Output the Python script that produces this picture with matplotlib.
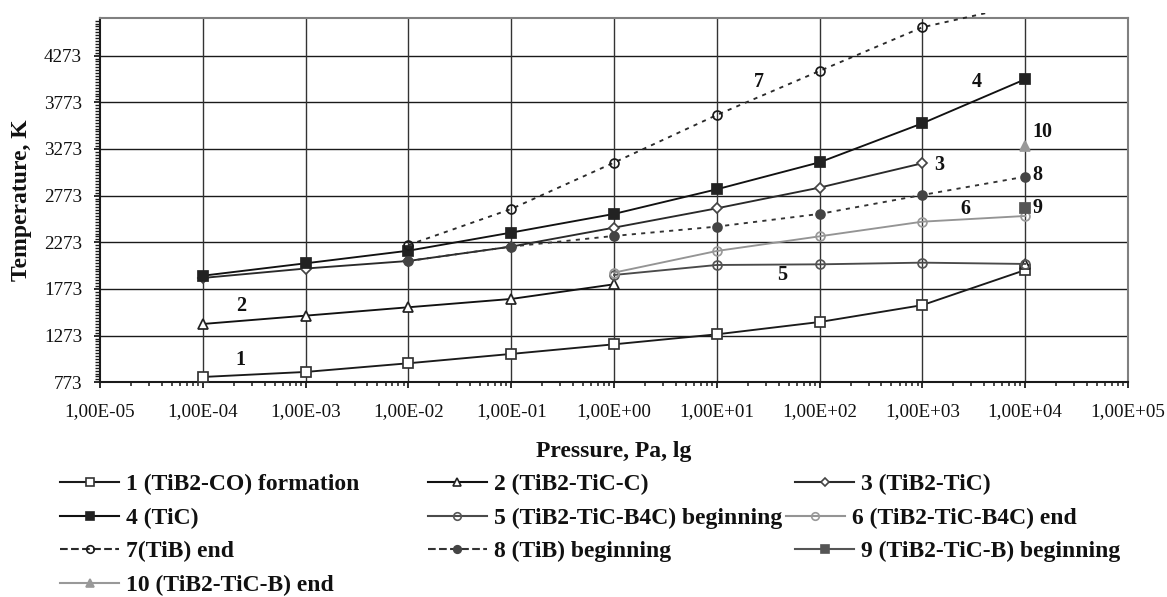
import numpy as np
import matplotlib
matplotlib.use("Agg")
import matplotlib.pyplot as plt
from matplotlib.lines import Line2D
from matplotlib.patches import Rectangle
from matplotlib.ticker import FixedLocator, NullFormatter, LogLocator

plt.rcParams['font.family'] = ['Liberation Serif', 'DejaVu Serif']

# ---------------- data ----------------
pressure = [1e-4, 1e-3, 1e-2, 1e-1, 1e0, 1e1, 1e2, 1e3, 1e4]
NaN = np.nan
s1 = [830, 884, 977, 1077, 1180, 1287, 1419, 1600, 1976]
s2 = [1398, 1487, 1577, 1666, 1823, NaN, NaN, NaN, 2041]
s3 = [1891, 1992, 2073, 2227, 2430, 2637, 2859, 3120, NaN]
s4 = [1915, 2048, 2183, 2377, 2577, 2841, 3130, 3548, 4020]
s5 = [NaN, NaN, NaN, NaN, 1923, 2030, 2037, 2055, 2041]
s6 = [NaN, NaN, NaN, NaN, 1948, 2180, 2337, 2494, 2555]
s7 = [NaN, NaN, 2244, 2630, 3127, 3637, 4109, 4577, 4823]
s8 = [NaN, NaN, 2073, 2227, 2341, 2441, 2577, 2780, 2976]
s9 = [NaN, NaN, NaN, NaN, NaN, NaN, NaN, NaN, 2638]
s10 = [NaN, NaN, NaN, NaN, NaN, NaN, NaN, NaN, 3308]

series_names = ["1 (TiB2-CO) formation", "2 (TiB2-TiC-C)", "3 (TiB2-TiC)",
                "4 (TiC)", "5 (TiB2-TiC-B4C) beginning", "6 (TiB2-TiC-B4C) end",
                "7(TiB) end", "8 (TiB) beginning", "9 (TiB2-TiC-B) beginning",
                "10 (TiB2-TiC-B) end"]
series_values = [s1, s2, s3, s4, s5, s6, s7, s8, s9, s10]

xtick_values = [1e-5, 1e-4, 1e-3, 1e-2, 1e-1, 1e0, 1e1, 1e2, 1e3, 1e4, 1e5]
xtick_labels = ["1,00E-05", "1,00E-04", "1,00E-03", "1,00E-02", "1,00E-01",
                "1,00E+00", "1,00E+01", "1,00E+02", "1,00E+03", "1,00E+04",
                "1,00E+05"]
ytick_values = [773, 1273, 1773, 2273, 2773, 3273, 3773, 4273]
y_min, y_max = 773, 4673

curve_labels = ["1", "2", "3", "4", "5", "6", "7", "8", "9", "10"]
curve_label_pos = [(10**-3.632, 1012), (10**-3.63, 1590), (10**3.161, 3103),
                   (10**3.527, 3994), (10**1.637, 1923), (10**3.414, 2630),
                   (10**1.407, 3994), (10**4.115, 2995), (10**4.115, 2640),
                   (10**4.17, 3458)]

# ---------------- styles ----------------
dot = (0, (2.2, 2.8))
styles = [
    dict(color='#1a1a1a', marker='s', mfc='white', mec='#333333', ms=6.8, ls='-'),
    dict(color='#111111', marker='^', mfc='white', mec='#222222', ms=6.6, ls='-'),
    dict(color='#2a2a2a', marker='D', mfc='white', mec='#444444', ms=4.8, ls='-'),
    dict(color='#111111', marker='s', mfc='#222222', mec='#222222', ms=6.8, ls='-'),
    dict(color='#4a4a4a', marker='o', mfc='none', mec='#555555', ms=6.4, ls='-'),
    dict(color='#949494', marker='o', mfc='none', mec='#999999', ms=6.4, ls='-'),
    dict(color='#2a2a2a', marker='o', mfc='none', mec='#1a1a1a', ms=6.4, ls=dot),
    dict(color='#333333', marker='o', mfc='#444444', mec='#444444', ms=6.4, ls=dot),
    dict(color='#555555', marker='s', mfc='#555555', mec='#555555', ms=6.8, ls='-'),
    dict(color='#999999', marker='^', mfc='#999999', mec='#999999', ms=6.8, ls='-'),
]

W, H = 1167, 597
fig = plt.figure(figsize=(W / 100, H / 100), dpi=100)
ax_left, ax_right, ax_top, ax_bottom = 100, 1128, 18.3, 382.3
ax = fig.add_axes([ax_left / W, 1 - ax_bottom / H, (ax_right - ax_left) / W,
                   (ax_bottom - ax_top) / H])
ax.set_xscale('log')
ax.set_xlim(1e-5, 1e5)
ax.set_ylim(y_min, y_max)

# grid
for yv in ytick_values[1:]:
    ax.axhline(yv, color='#1a1a1a', lw=1.0, zorder=1)
for xv in xtick_values[1:-1]:
    ax.axvline(xv, color='#333333', lw=1.0, zorder=1)

handles = []
for i, (vals, st) in enumerate(zip(series_values, styles)):
    ln, = ax.plot(pressure, vals, color=st['color'], ls=st['ls'], lw=1.35,
                  marker=st['marker'], mfc=st['mfc'], mec=st['mec'],
                  ms=st['ms'], mew=1.25, zorder=3 + i * 0.01)
    if i == 6:
        clip = Rectangle((0, 0), 1, 1 + 5 / (ax_bottom - ax_top),
                         transform=ax.transAxes)
        ln.set_clip_path(clip)
    handles.append(ln)

# ticks
ax.xaxis.set_major_locator(FixedLocator(xtick_values))
ax.set_xticklabels(xtick_labels)
ax.xaxis.set_minor_locator(LogLocator(base=10, subs=np.arange(2, 10), numticks=20))
ax.xaxis.set_minor_formatter(NullFormatter())
ax.yaxis.set_major_locator(FixedLocator(ytick_values))
ax.set_yticklabels([str(v) for v in ytick_values])
ax.yaxis.set_minor_locator(FixedLocator(np.arange(y_min, y_max + 1, 31.25)))
ax.tick_params(axis='x', which='major', direction='out', length=4, width=1.3,
               labelsize=13.8, pad=11, color='#1a1a1a', labelcolor='#111111')
ax.tick_params(axis='x', which='minor', direction='out', length=3, width=1.1,
               color='#1a1a1a')
ax.tick_params(axis='y', which='major', direction='out', length=4.5, width=1.3,
               labelsize=13.8, pad=8.5, color='#1a1a1a', labelcolor='#111111')
ax.tick_params(axis='y', which='minor', direction='out', length=3.5, width=1.0,
               color='#1a1a1a')

for sp in ['left', 'bottom']:
    ax.spines[sp].set_color('#1a1a1a')
    ax.spines[sp].set_linewidth(1.5)
for sp in ['top', 'right']:
    ax.spines[sp].set_color('#808080')
    ax.spines[sp].set_linewidth(1.5)

# curve numbers
for lab, (xp, yp) in zip(curve_labels, curve_label_pos):
    ax.text(xp, yp, lab, ha='center', va='center', fontsize=14.5,
            fontweight='bold', color='#111111', zorder=6)

# axis titles
fig.text(614 / W, 1 - 451.7 / H, "Pressure, Pa, lg", ha='center', va='center',
         fontsize=17, fontweight='bold', color='#111111')
fig.text(22 / W, 1 - 200 / H, "Temperature, K", ha='center', va='center',
         rotation=90, fontsize=17, fontweight='bold', color='#111111')

# legend entries (row-major layout as in the reference)
row_y = [484.3, 518.3, 551.7, 585.0]
entry_pos = [(60, row_y[0]), (427.7, row_y[0]), (795, row_y[0]),
             (60, row_y[1]), (427.7, row_y[1]), (785.7, row_y[1]),
             (60, row_y[2]), (427.7, row_y[2]), (795, row_y[2]),
             (60, row_y[3])]
for h, name, (px, py) in zip(handles, series_names, entry_pos):
    proxy = Line2D([], [], color=h.get_color(), ls=h.get_linestyle(), lw=1.5,
                   marker=h.get_marker(), mfc=h.get_markerfacecolor(),
                   mec=h.get_markeredgecolor(), ms=h.get_markersize() * 0.85,
                   mew=1.2)
    lg = fig.legend([proxy], [name], loc='center left',
                    bbox_to_anchor=(px / W, 1 - py / H),
                    bbox_transform=fig.transFigure, frameon=False,
                    borderpad=0, borderaxespad=0, handlelength=2.5,
                    handletextpad=0.3, numpoints=1,
                    prop=dict(size=17, weight='bold'),
                    labelcolor='#111111')

fig.savefig("out.png", dpi=100)
